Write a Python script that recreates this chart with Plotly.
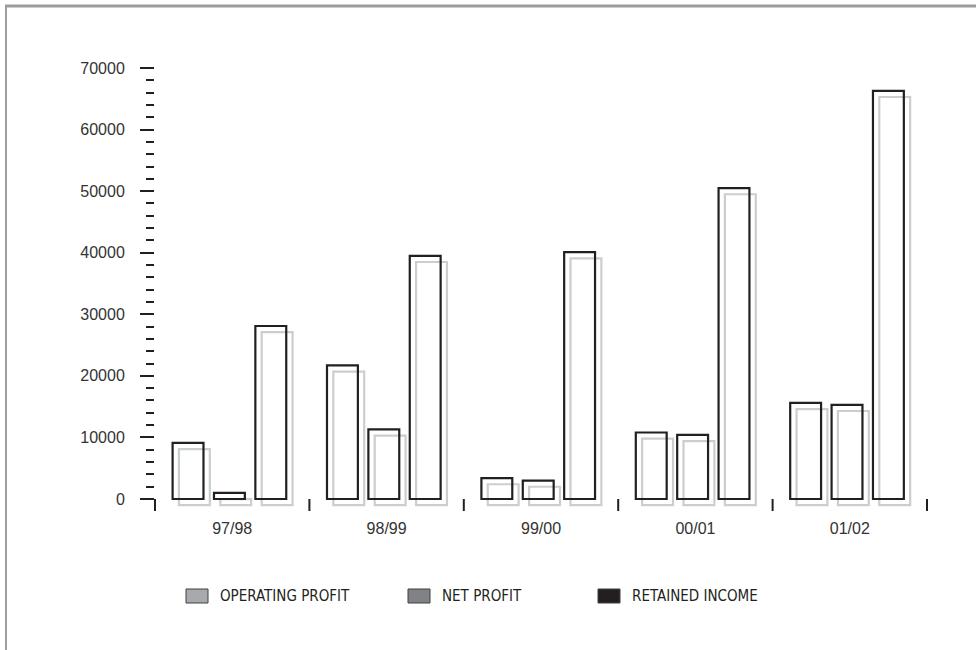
import plotly.graph_objects as go

# Financial years
years = ["97/98", "98/99", "99/00", "00/01", "01/02"]

# Series values
operating_profit = [9100, 21700, 3400, 10800, 15600]
net_profit = [1000, 11300, 3000, 10400, 15300]
retained_income = [28100, 39500, 40100, 50500, 66300]

series_names = ["OPERATING PROFIT", "NET PROFIT", "RETAINED INCOME"]
swatch_colors = ["#a7a9ac", "#808285", "#231f20"]

Y_MAX = 70000

# Figure geometry (pixels)
FIG_W, FIG_H = 976, 650
ZERO_PX, TOP_PX = 499, 68          # pixel rows of 0 and Y_MAX
PLOT_BOTTOM_PX = 509               # leaves room for the shadows under zero
M_L, M_R = 155, 49
M_T, M_B = TOP_PX, FIG_H - PLOT_BOTTOM_PX
PLOT_W = FIG_W - M_L - M_R
PLOT_H = FIG_H - M_T - M_B
UNITS_PER_PX = Y_MAX / (ZERO_PX - TOP_PX)
Y_MIN = -(PLOT_BOTTOM_PX - ZERO_PX) * UNITS_PER_PX

INK = "#231f20"
SHADOW = "#cbced1"
BAR_W = 0.2
CENTERS = [-0.286, -0.018, 0.25]
SHADOW_DX = 0.041                  # category units
SHADOW_DY = 6.2 * UNITS_PER_PX     # value units


def px_x(px):
    return (px - M_L) / PLOT_W


def px_y(py):
    return (FIG_H - M_B - py) / PLOT_H


fig = go.Figure()

all_series = [operating_profit, net_profit, retained_income]

# Soft grey drop shadows behind each bar
for vals, c in zip(all_series, CENTERS):
    fig.add_trace(go.Bar(
        x=years, y=vals, base=[-SHADOW_DY] * len(vals),
        width=BAR_W, offset=c - BAR_W / 2 + SHADOW_DX,
        marker=dict(color="rgba(0,0,0,0)", line=dict(color=SHADOW, width=2.2)),
        showlegend=False, hoverinfo="skip",
    ))

# Outlined bars on top
for name, vals, c in zip(series_names, all_series, CENTERS):
    fig.add_trace(go.Bar(
        x=years, y=vals, name=name,
        width=BAR_W, offset=c - BAR_W / 2,
        marker=dict(color="rgba(0,0,0,0)", line=dict(color=INK, width=2.2)),
        showlegend=False,
    ))

shapes = []
annotations = []

# Category boundary ticks hanging below the zero line
n = len(years)
for i in range(n + 1):
    shapes.append(dict(
        type="line", xref="paper", yref="paper",
        x0=i / n, x1=i / n, y0=px_y(ZERO_PX), y1=px_y(ZERO_PX + 12),
        line=dict(color=INK, width=2),
    ))

# Legend built from swatches and labels
legend_swatch_left = [186, 408, 598]
for name, col, sx in zip(series_names, swatch_colors, legend_swatch_left):
    shapes.append(dict(
        type="rect", xref="paper", yref="paper",
        x0=px_x(sx), x1=px_x(sx + 22), y0=px_y(603), y1=px_y(589),
        fillcolor=col, line=dict(color="#414042", width=1),
    ))
    annotations.append(dict(
        xref="paper", yref="paper", x=px_x(sx + 32), y=px_y(596),
        text=name, showarrow=False, xanchor="left", yanchor="middle",
        font=dict(family="Liberation Sans Narrow, DejaVu Sans Condensed, sans-serif",
                  size=15, color=INK),
    ))

# Frame lines along the top and left edges
shapes.append(dict(type="line", xref="paper", yref="paper",
                   x0=px_x(5), x1=px_x(FIG_W + 2), y0=px_y(6), y1=px_y(6),
                   line=dict(color="#9d9d9f", width=3)))
shapes.append(dict(type="line", xref="paper", yref="paper",
                   x0=px_x(6), x1=px_x(6), y0=px_y(5), y1=px_y(FIG_H + 2),
                   line=dict(color="#9d9d9f", width=2)))

fig.update_layout(
    width=FIG_W, height=FIG_H,
    margin=dict(l=M_L, r=M_R, t=M_T, b=M_B, pad=0),
    paper_bgcolor="white", plot_bgcolor="white",
    barmode="overlay",
    font=dict(family="Liberation Sans, Arial, sans-serif", size=16, color=INK),
    shapes=shapes, annotations=annotations,
    xaxis=dict(
        type="category", range=[-0.5, n - 0.5],
        ticks="", showline=False, showgrid=False, zeroline=False,
        tickfont=dict(size=16, color="#333"), ticklabelstandoff=8,
    ),
    yaxis=dict(
        range=[Y_MIN, Y_MAX], dtick=10000, tick0=0, tickformat="d",
        ticks="outside", ticklen=14, tickwidth=2, tickcolor=INK,
        showline=False, showgrid=False, zeroline=False,
        tickfont=dict(size=16, color="#333"), ticklabelstandoff=12,
        minor=dict(dtick=2000, tick0=0, ticks="outside", ticklen=8, tickwidth=2,
                   tickcolor=INK, showgrid=False),
    ),
)

fig.write_html("out.html")
